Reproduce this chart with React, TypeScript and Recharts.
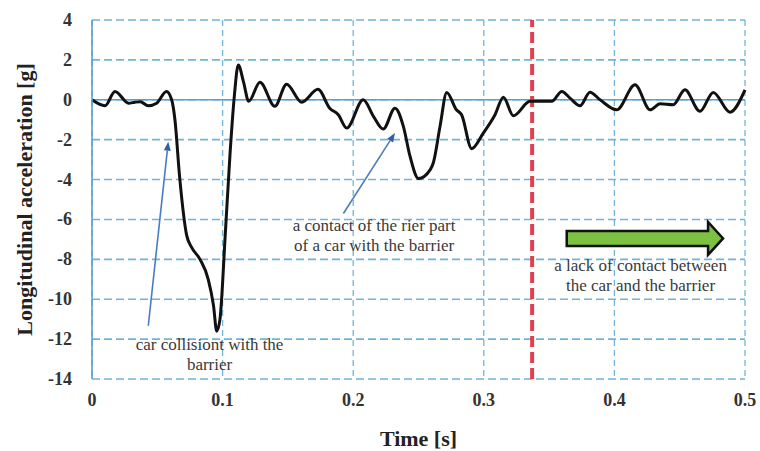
import {
  LineChart,
  Line,
  XAxis,
  YAxis,
  CartesianGrid,
  ReferenceLine,
  ReferenceDot,
} from "recharts";

const TIME = [
  0, 0.01, 0.0176, 0.028, 0.033, 0.037, 0.043, 0.0495, 0.057, 0.061, 0.0635,
  0.067, 0.0725, 0.0763, 0.0827, 0.089, 0.093, 0.0955, 0.098, 0.102, 0.1057,
  0.109, 0.112, 0.116, 0.12, 0.1286, 0.14, 0.149, 0.1606, 0.173, 0.182,
  0.1886, 0.195, 0.2077, 0.2155, 0.223, 0.232, 0.2384, 0.2435, 0.25, 0.259,
  0.2613, 0.2665, 0.2716, 0.279, 0.283, 0.2907, 0.2996, 0.3086, 0.315,
  0.3226, 0.3354, 0.352, 0.3597, 0.366, 0.3737, 0.3813, 0.389, 0.4018,
  0.4158, 0.4273, 0.435, 0.445, 0.454, 0.4655, 0.4757, 0.4885, 0.5,
];

const ACCEL = [
  0, -0.3, 0.42, -0.17, -0.12, -0.1, -0.3, -0.17, 0.42, 0, -1, -3.8, -6.8,
  -7.4, -8, -9, -10.3, -11.6, -11, -6.8, -2.7, 0.2, 1.75, 0.9, -0.08, 0.88,
  -0.33, 0.78, -0.12, 0.53, -0.42, -0.75, -1.42, 0, -0.83, -1.47, -0.42,
  -1.33, -2.83, -3.95, -3.5, -3.17, -1.33, 0.37, -0.5, -0.75, -2.45, -1.67,
  -0.75, 0.13, -0.8, -0.08, -0.08, 0.42, 0.08, -0.3, 0.38, 0, -0.5, 0.75,
  -0.5, -0.2, -0.25, 0.5, -0.58, 0.37, -0.62, 0.5,
];

const X_TICKS = [0, 0.1, 0.2, 0.3, 0.4, 0.5];
const Y_TICKS = [-14, -12, -10, -8, -6, -4, -2, 0, 2, 4];

const CONTACT_END = 0.337;

const ARROW_COLLISION = [
  { x: 0.0431, y: -11.33 },
  { x: 0.0584, y: -2.1 },
];
const ARROW_REAR = [
  { x: 0.1925, y: -5.7 },
  { x: 0.232, y: -1.67 },
];
const ARROW_FREE = [
  { x: 0.3635, y: -6.95 },
  { x: 0.4832, y: -6.95 },
];

const NOTES = [
  { x: 0.09, y: -12.8, lines: ["car collisiont with the", "barrier"] },
  { x: 0.216, y: -6.85, lines: ["a contact of the rier part", "of a car with the barrier"] },
  { x: 0.42, y: -8.85, lines: ["a lack of contact between", "the car and the barrier"] },
];

const SERIF = '"Liberation Serif", "Times New Roman", serif';
const GRID = "#72b4da";

const data = TIME.map((t, i) => ({ t, a: ACCEL[i] }));

const tickStyle = {
  fontFamily: SERIF,
  fontSize: 18,
  fontWeight: "bold",
  fill: "#333",
};

function XTick(props: any) {
  const { x, y, payload } = props;
  return (
    <text x={x} y={y} dy={15} textAnchor="middle" style={tickStyle}>
      {String(payload.value)}
    </text>
  );
}

function YTick(props: any) {
  const { x, y, payload } = props;
  return (
    <text x={x} y={y} dy={6} textAnchor="end" style={tickStyle}>
      {String(payload.value)}
    </text>
  );
}

function BlueArrow(props: any) {
  const { x1, y1, x2, y2 } = props;
  const ang = Math.atan2(y2 - y1, x2 - x1);
  const len = 9;
  const w = 3.5;
  const bx = x2 - len * Math.cos(ang);
  const by = y2 - len * Math.sin(ang);
  const px = -Math.sin(ang) * w;
  const py = Math.cos(ang) * w;
  return (
    <g>
      <line x1={x1} y1={y1} x2={bx} y2={by} stroke="#4a7cc0" strokeWidth={1.6} />
      <polygon
        points={`${x2},${y2} ${bx + px},${by + py} ${bx - px},${by - py}`}
        fill="#2f5fa8"
      />
    </g>
  );
}

function GreenArrow(props: any) {
  const { x1, y1, x2 } = props;
  const head = 15;
  const hb = 7.5;
  const hh = 16.5;
  const xb = x2 - head;
  const pts = [
    [x1, y1 - hb],
    [xb, y1 - hb],
    [xb, y1 - hh],
    [x2, y1],
    [xb, y1 + hh],
    [xb, y1 + hb],
    [x1, y1 + hb],
  ]
    .map((p) => p.join(","))
    .join(" ");
  return <polygon points={pts} fill="#7cc142" stroke="#111" strokeWidth={2.5} />;
}

function Note(lines: string[]) {
  return (props: any) => {
    const { cx, cy } = props;
    const gap = 20;
    const top = cy - ((lines.length - 1) * gap) / 2;
    return (
      <text
        textAnchor="middle"
        style={{ fontFamily: SERIF, fontSize: 17, fill: "#3a3a3a" }}
      >
        {lines.map((l, i) => (
          <tspan key={i} x={cx} y={top + i * gap + 5}>
            {l}
          </tspan>
        ))}
      </text>
    );
  };
}

export default function App() {
  return (
    <div
      style={{
        position: "absolute",
        left: 0,
        top: 0,
        width: 760,
        height: 451,
        background: "#fff",
      }}
    >
      <LineChart
        width={760}
        height={451}
        data={data}
        margin={{ top: 20, right: 15, left: 0, bottom: 0 }}
      >
        <CartesianGrid
          horizontal={true}
          vertical={false}
          stroke={GRID}
          strokeWidth={1.6}
          strokeDasharray="8 4"
        />
        <CartesianGrid
          horizontal={false}
          vertical={true}
          stroke={GRID}
          strokeWidth={1.3}
          strokeDasharray="6 4"
        />
        <XAxis
          dataKey="t"
          type="number"
          domain={[0, 0.5]}
          ticks={X_TICKS}
          axisLine={false}
          tickLine={false}
          height={72}
          tickMargin={6}
          tick={<XTick />}
          label={{
            value: "Time [s]",
            position: "insideBottom",
            offset: 5,
            style: { fontFamily: SERIF, fontSize: 22, fontWeight: "bold", fill: "#222" },
          }}
        />
        <YAxis
          type="number"
          domain={[-14, 4]}
          ticks={Y_TICKS}
          width={92}
          axisLine={{ stroke: "#5a9fcf", strokeWidth: 1.6 }}
          tickLine={false}
          tickMargin={14}
          tick={<YTick />}
          label={{
            content: (p: any) => {
              const vb = p.viewBox || {};
              const cy = (vb.y ?? 20) + (vb.height ?? 359) / 2;
              return (
                <text
                  x={25}
                  y={cy}
                  transform={`rotate(-90, 25, ${cy})`}
                  textAnchor="middle"
                  dy={7}
                  style={{ fontFamily: SERIF, fontSize: 22, fontWeight: "bold", fill: "#222" }}
                >
                  Longitudinal acceleration [g]
                </text>
              );
            },
          }}
        />
        <ReferenceLine y={0} stroke="#5a9fcf" strokeWidth={1.6} />
        <ReferenceLine
          x={CONTACT_END}
          stroke="#e0404f"
          strokeWidth={4}
          strokeDasharray="11 5"
        />
        <ReferenceLine segment={ARROW_COLLISION} shape={BlueArrow} ifOverflow="visible" />
        <ReferenceLine segment={ARROW_REAR} shape={BlueArrow} ifOverflow="visible" />
        <ReferenceLine segment={ARROW_FREE} shape={GreenArrow} ifOverflow="visible" />
        {NOTES.map((n, i) => (
          <ReferenceDot
            key={i}
            x={n.x}
            y={n.y}
            r={0}
            shape={Note(n.lines)}
            ifOverflow="visible"
          />
        ))}
        <Line
          type="monotone"
          dataKey="a"
          stroke="#111"
          strokeWidth={3}
          dot={false}
          isAnimationActive={false}
        />
      </LineChart>
    </div>
  );
}
